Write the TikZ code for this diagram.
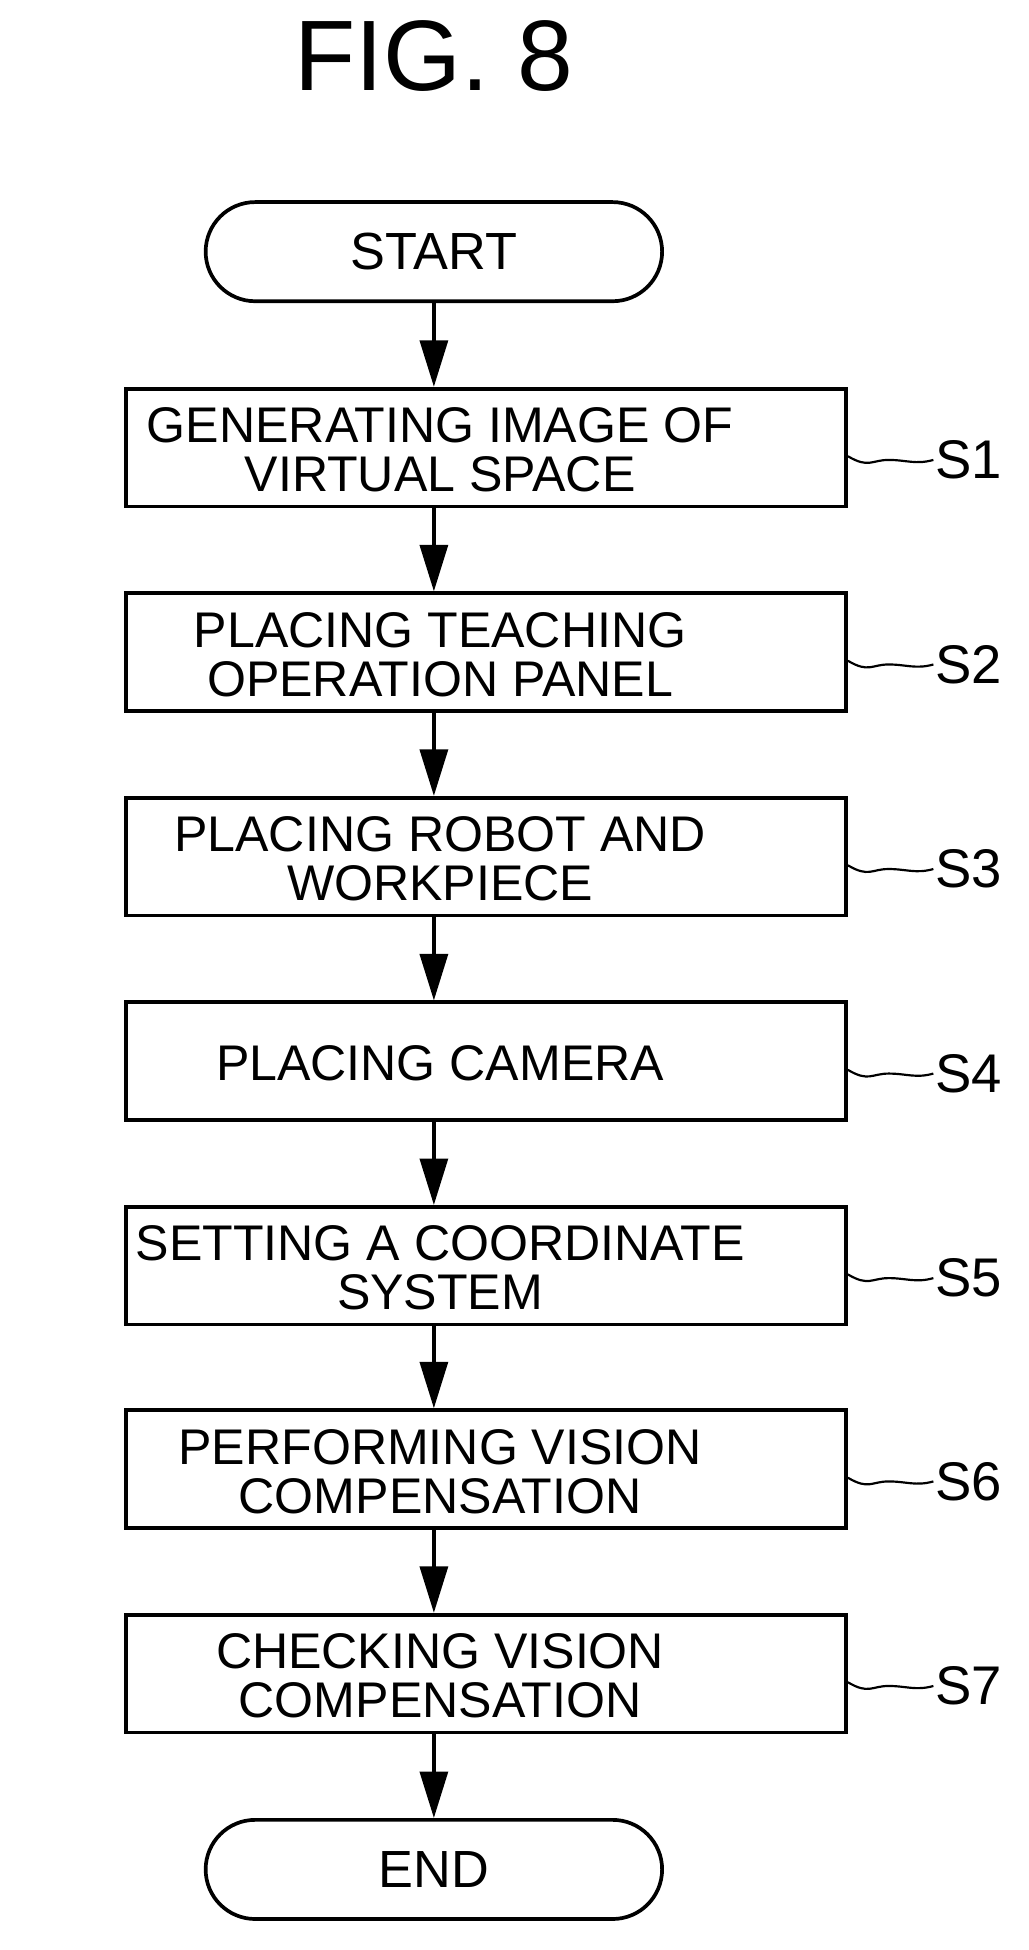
\documentclass[tikz,border=0pt]{standalone}
\usepackage{fontspec}
\setmainfont{Liberation Sans}
\usetikzlibrary{arrows.meta,shapes.misc}
\begin{document}
\begin{tikzpicture}[x=0.02cm,y=-0.02cm,line width=1.7pt,
    step node/.style={draw,rectangle,minimum width=11.62cm,minimum height=1.9cm,inner sep=0pt,
      label={[align=center,font=\fontsize{23}{22.5}\selectfont,xshift=-0.74cm,yshift=-0.04cm]center:#1}},
    term node/.style={draw,rounded rectangle,minimum width=7.6cm,minimum height=1.6cm,font=\fontsize{24}{26}\selectfont},
    tag node/.style={font=\fontsize{25}{27}\selectfont,inner sep=0pt,anchor=west},
    flow/.style={-{Triangle[length=0.75cm,width=0.45cm]}}]
  \useasboundingbox (0,0) rectangle (830,1573);
  \node[font=\fontsize{46}{48}\selectfont] at (350,45) (title) {FIG. 8};
  \node[term node] at (350,203) (start) {START};
  \node[step node={GENERATING IMAGE OF\\VIRTUAL SPACE}] at (392,361) (s1) {};
  \node[step node={PLACING TEACHING\\OPERATION PANEL}] at (392,526) (s2) {};
  \node[step node={PLACING ROBOT AND\\WORKPIECE}] at (392,691) (s3) {};
  \node[step node={PLACING CAMERA}] at (392,856) (s4) {};
  \node[step node={SETTING A COORDINATE\\SYSTEM}] at (392,1021) (s5) {};
  \node[step node={PERFORMING VISION\\COMPENSATION}] at (392,1185) (s6) {};
  \node[step node={CHECKING VISION\\COMPENSATION}] at (392,1350) (s7) {};
  \node[term node] at (350,1508) (end) {END};
  \foreach \a/\b in {start/s1,s1/s2,s2/s3,s3/s4,s4/s5,s5/s6,s6/s7,s7/end}
    \draw[flow] (\a.south -| start.south) -- (\b.north -| start.south);
  % step tags
  \foreach \i in {1,...,7} {
    \node[tag node] at ([xshift=1.38cm,yshift=-0.2cm]s\i.east) (t\i) {S\i};
    \draw[line width=1pt] ([yshift=-0.14cm]s\i.east) .. controls +(17,10) and +(-14,0) .. ++(33,3)
      .. controls +(14,0) and +(-14,4) .. (t\i.west);
  }
\end{tikzpicture}
\end{document}
